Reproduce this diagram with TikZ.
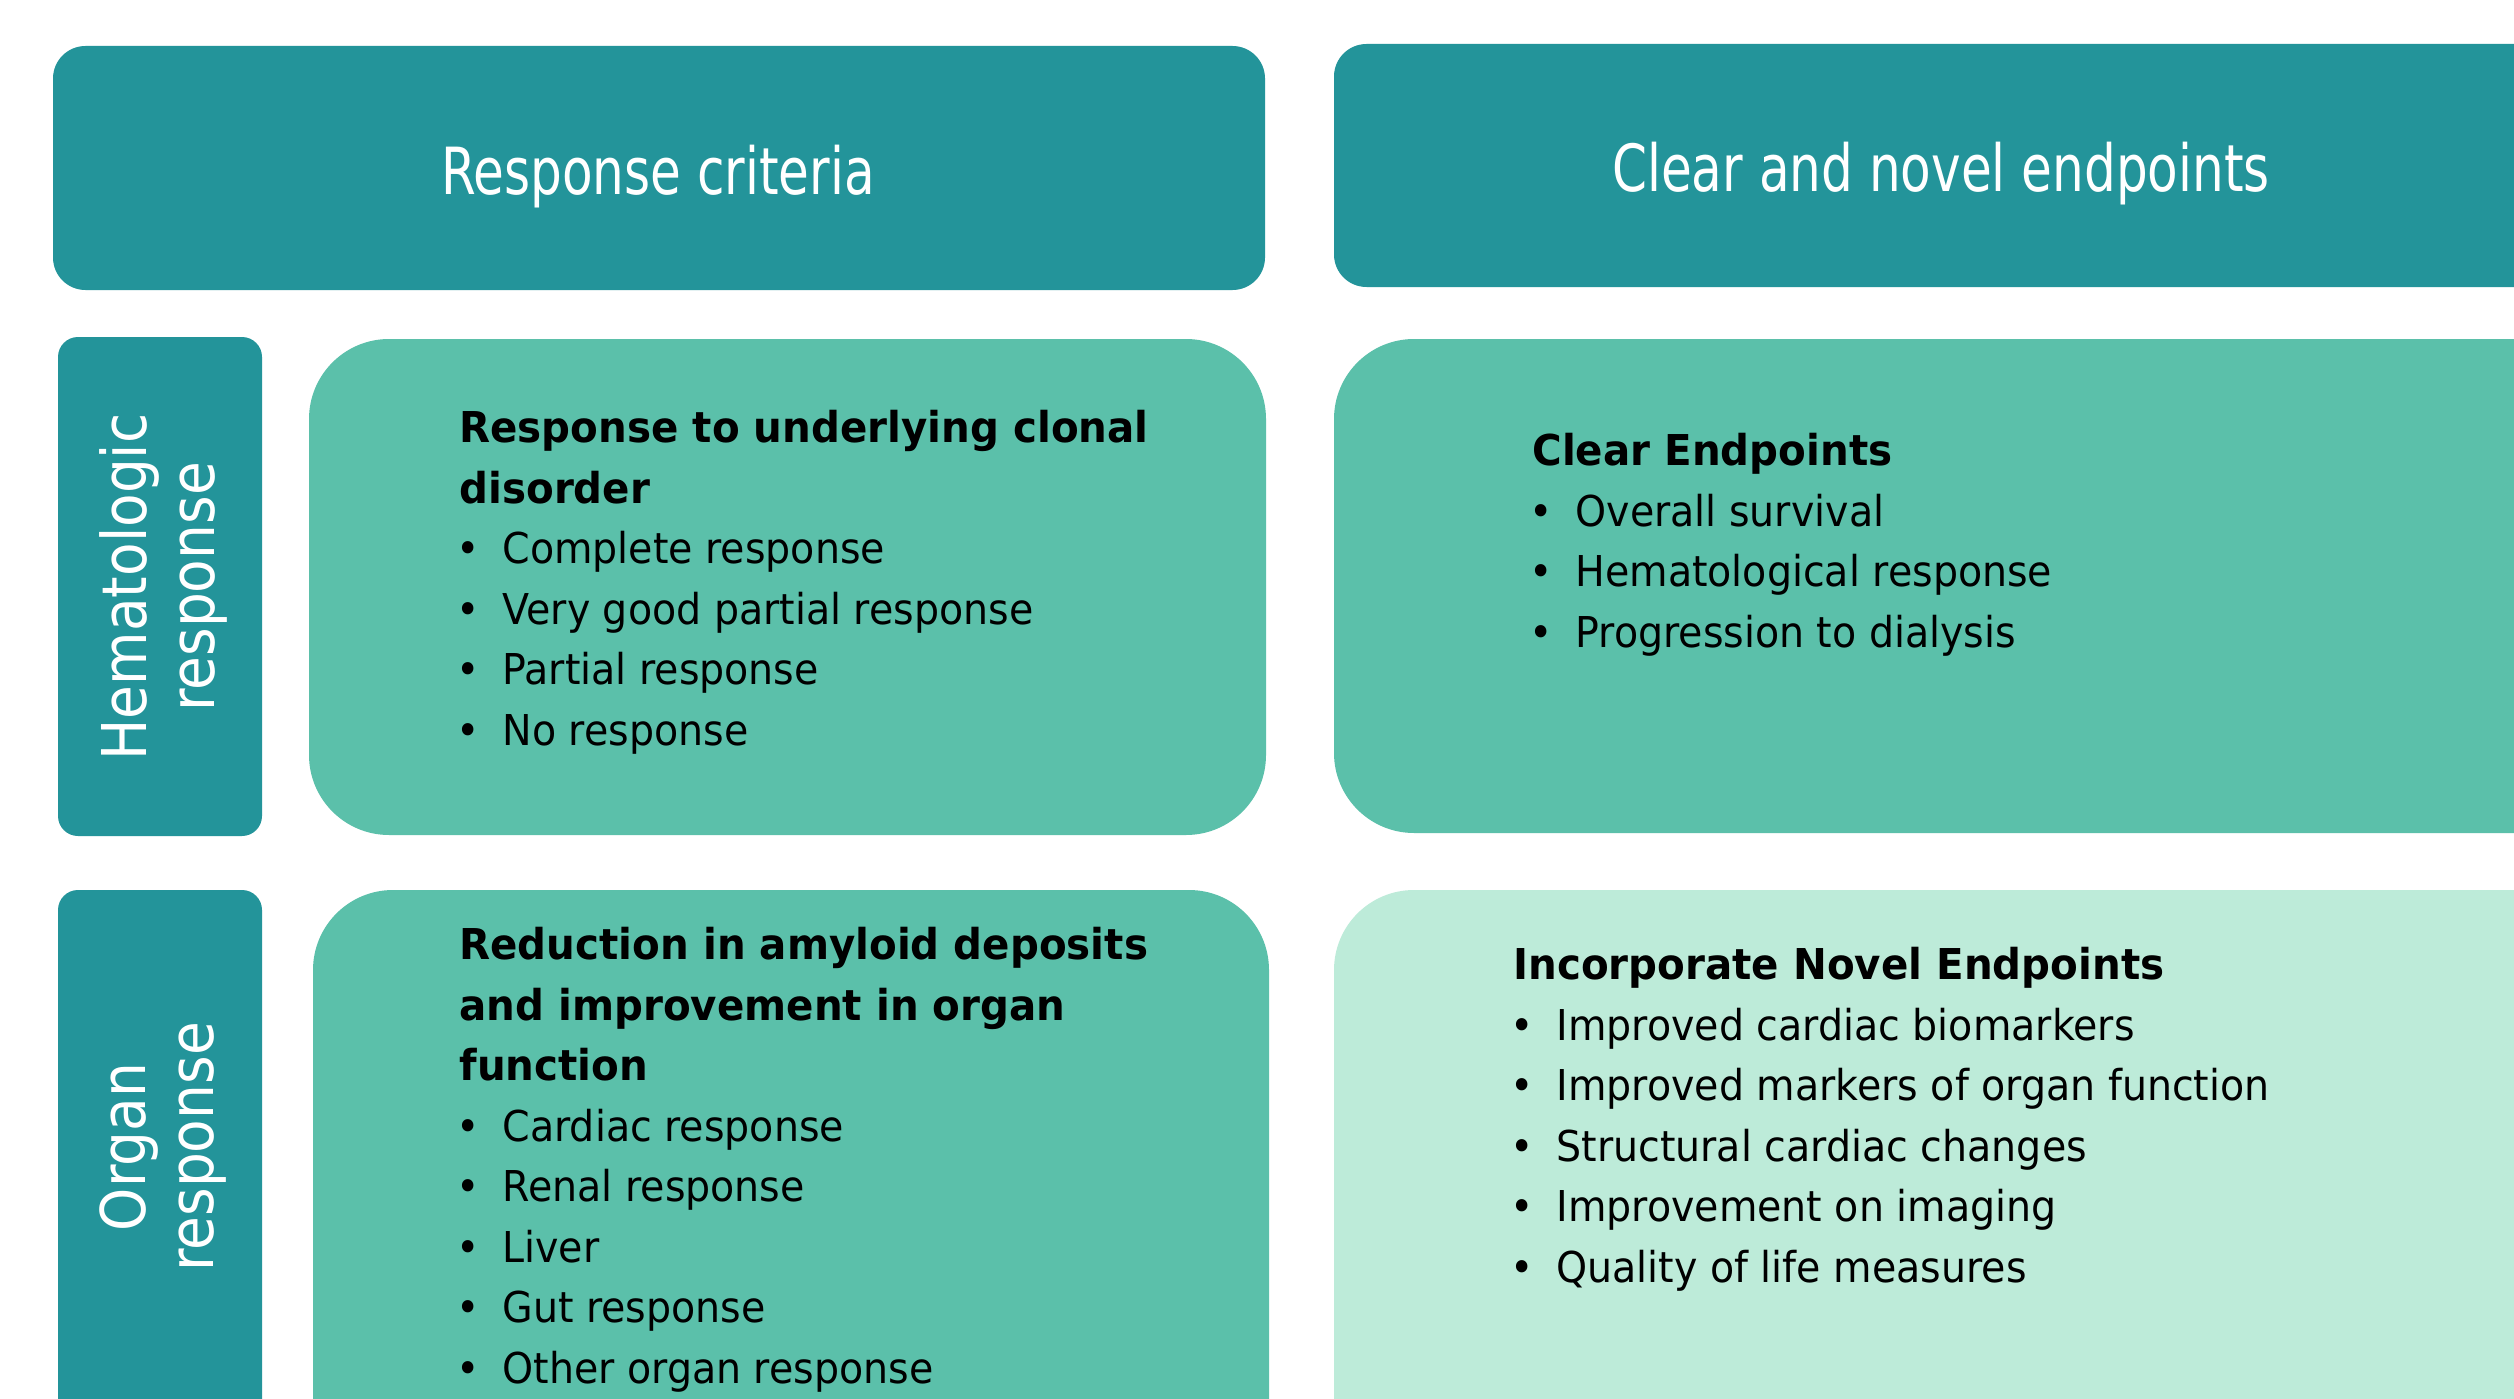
\documentclass[tikz,border=0pt]{standalone}
\usepackage{fontspec}
\setmainfont{DejaVu Sans}
\newfontfamily\headfont{DejaVu Sans}[FakeStretch=0.77]
\newfontfamily\bodyfont{DejaVu Sans}[FakeStretch=0.93,BoldFeatures={FakeStretch=0.95}]
\newfontfamily\tabfont{DejaVu Sans}[FakeStretch=0.89]

\definecolor{tealdark}{RGB}{35,148,154}
\definecolor{tealmid}{RGB}{91,192,170}
\definecolor{mintlight}{RGB}{189,235,217}

% bullet with hanging indent for the lists
\newcommand{\itm}{\makebox[17.2pt][l]{\hspace{-1.1pt}\textbullet}}

\tikzset{
  headbox/.style={fill=tealdark, draw=none, rounded corners=13pt},
  sidetab/.style={fill=tealdark, draw=none, rounded corners=8pt},
  card/.style={fill=tealmid, draw=none, rounded corners=32pt},
  headtext/.style={text=white, anchor=base, inner sep=0pt, font=\headfont\fontsize{26}{30}\selectfont},
  tabtext/.style={text=white, rotate=90, align=center, inner sep=0pt, font=\tabfont\fontsize{24.7}{27.2}\selectfont},
  % lists are placed by the baseline of their last line
  listtext/.style={anchor=base west, align=left, inner sep=0pt, font=\bodyfont\fontsize{17}{24.2}\selectfont}
}

\begin{document}
\begin{tikzpicture}[x=0.4pt,y=0.4pt,yscale=-1,xscale=1]
\useasboundingbox (0,0) rectangle (2514,1399);
\fill[white] (0,0) rectangle (2514,1399);
\clip (0,0) rectangle (2514,1399);

%Header bars
\draw[headbox] (53,46) rectangle (1265,290);
\draw[headbox] (1334,44) rectangle (2640,287);

%Side tabs
\draw[sidetab] (58,337) rectangle (262,836);
\draw[sidetab] (58,890) rectangle (262,1480);

%Content cards
\draw[card] (309,339) rectangle (1266,835);
\draw[card] (1334,339) rectangle (2640,833);
\draw[card] (313,890) rectangle (1269,1480);
\draw[card, fill=mintlight] (1334,890) rectangle (2640,1480);

% Header text
\node (critHead) [headtext] at (658,195) {Response criteria};
\node (endHead) [headtext] at (1941,192) {Clear and novel endpoints};

% Tab labels
\node (hemTab) [tabtext] at (163,587) {Hematologic\\response};
\node (orgTab) [tabtext] at (163,1147) {Organ\\response};

% Card lists
\node (hemList) [listtext] at (459,745) {\textbf{Response to underlying clonal}\\
  \textbf{disorder}\\
  \itm Complete response\\
  \itm Very good partial response\\
  \itm Partial response\\
  \itm No response};
\node (clearList) [listtext] at (1532,647) {\textbf{Clear Endpoints}\\
  \itm Overall survival\\
  \itm Hematological response\\
  \itm Progression to dialysis};
\node (orgList) [listtext] at (459,1383) {\textbf{Reduction in amyloid deposits}\\
  \textbf{and improvement in organ}\\
  \textbf{function}\\
  \itm Cardiac response\\
  \itm Renal response\\
  \itm Liver\\
  \itm Gut response\\
  \itm Other organ response};
\node (novelList) [listtext] at (1513,1282) {\textbf{Incorporate Novel Endpoints}\\
  \itm Improved cardiac biomarkers\\
  \itm Improved markers of organ function\\
  \itm Structural cardiac changes\\
  \itm Improvement on imaging\\
  \itm Quality of life measures};
\end{tikzpicture}
\end{document}
